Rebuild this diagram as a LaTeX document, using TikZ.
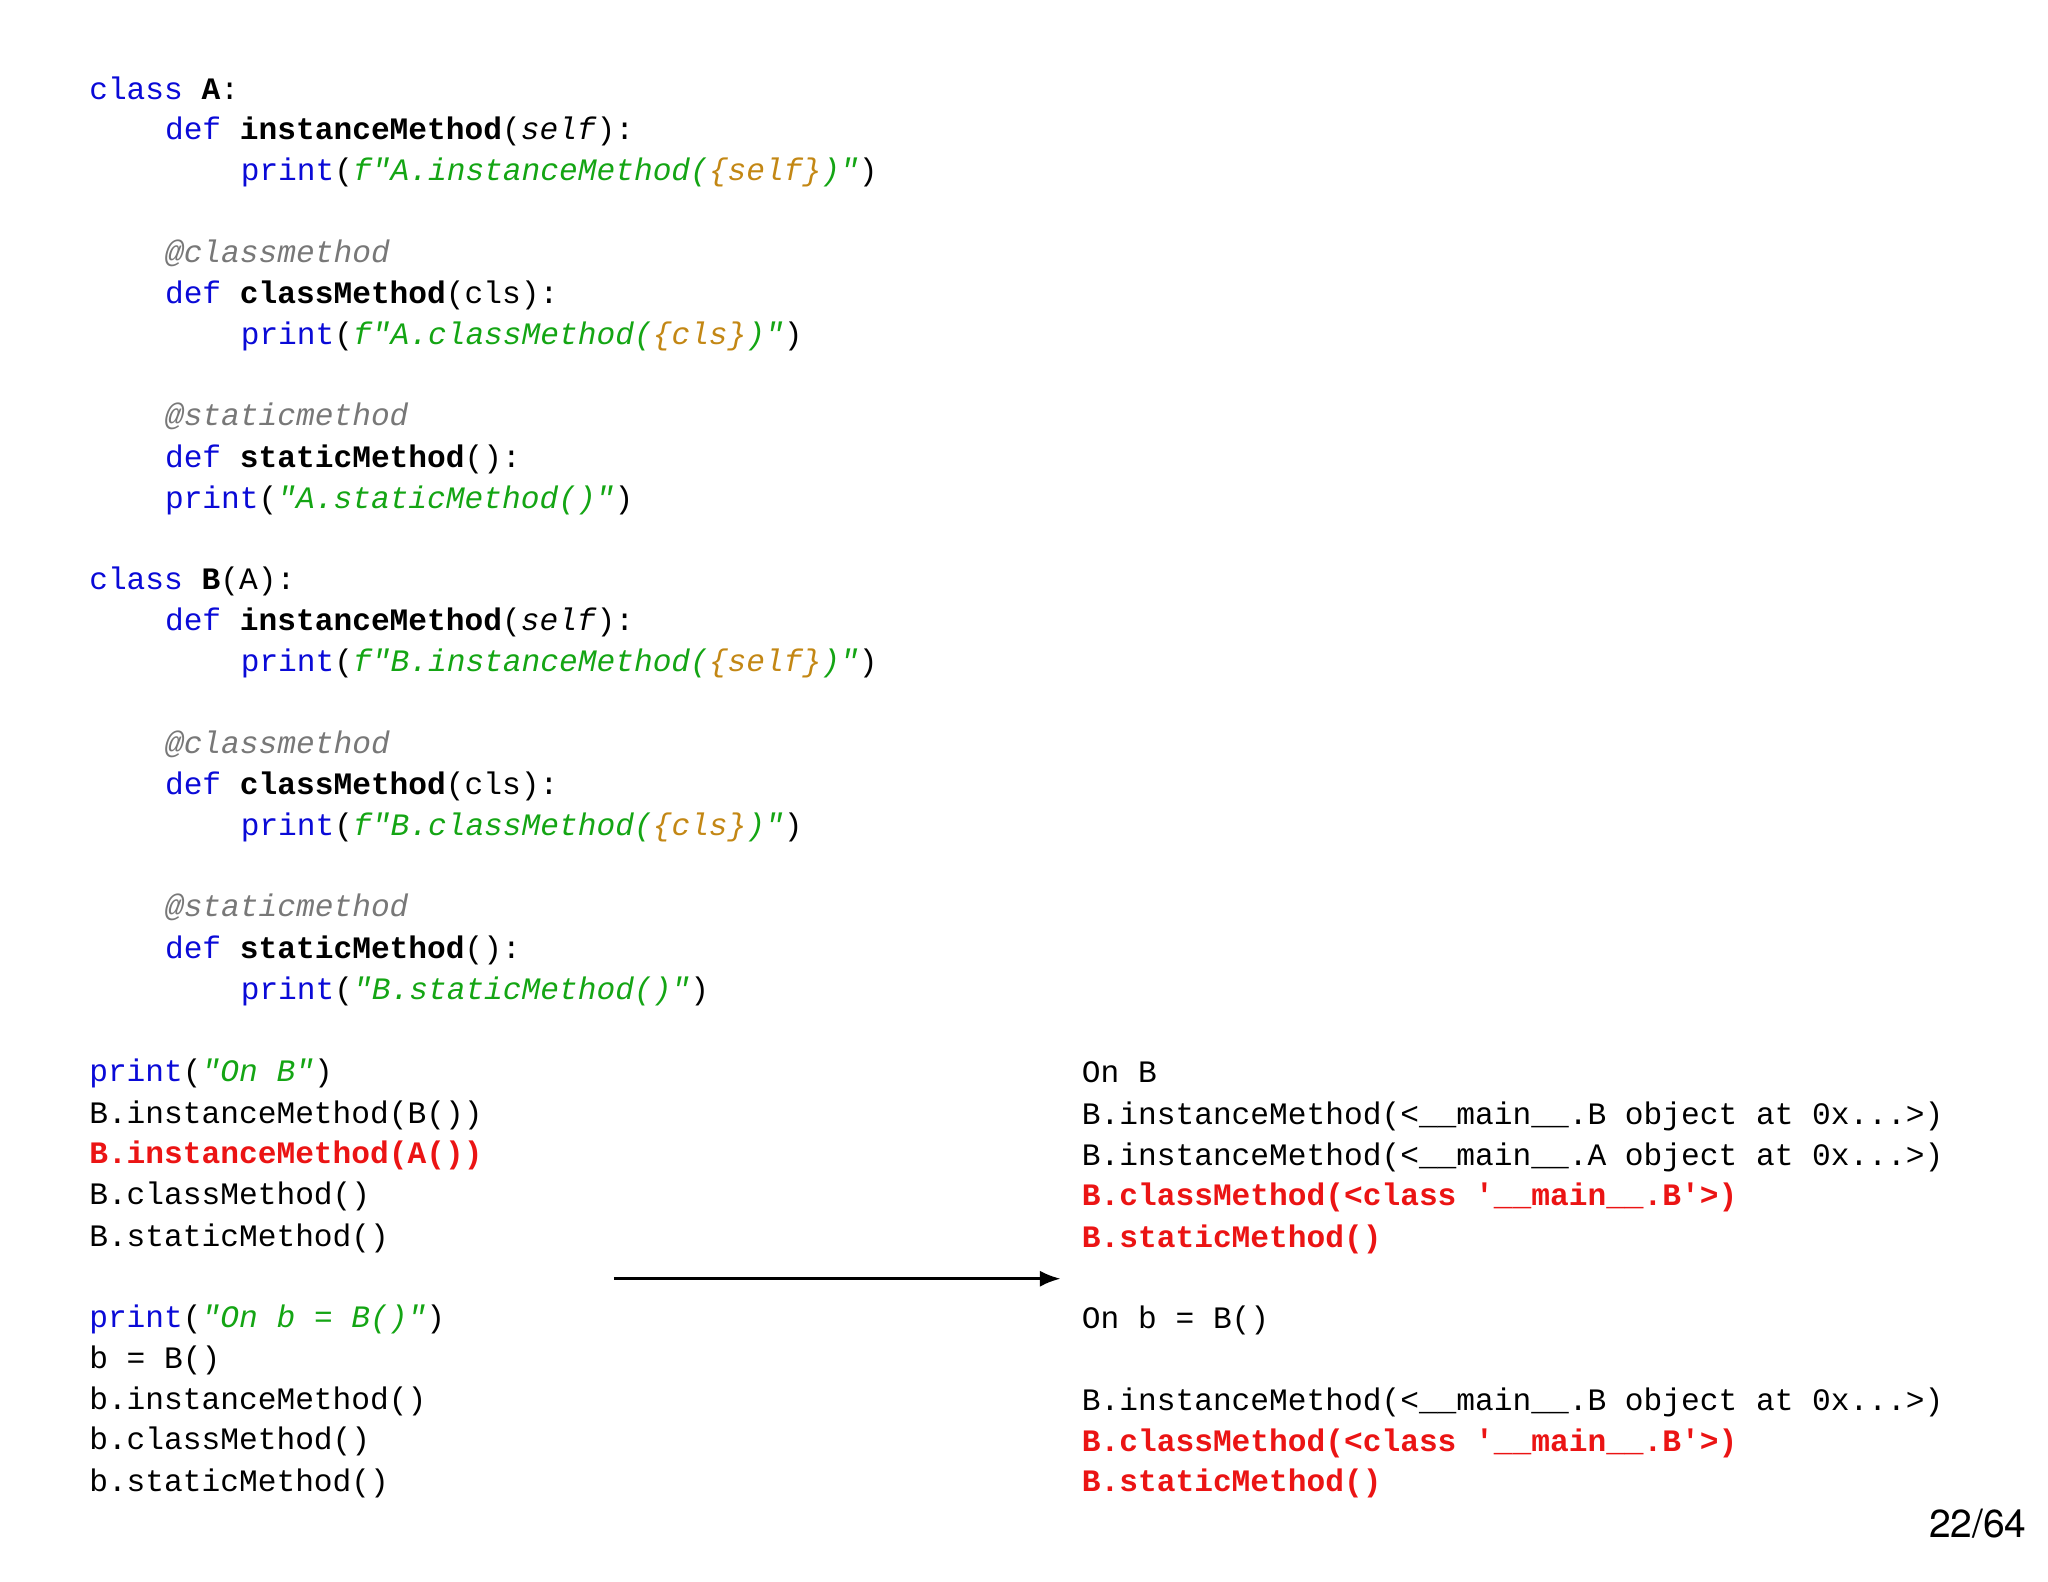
\documentclass[tikz,border=0pt]{standalone}
\usepackage{fontspec}
\usetikzlibrary{arrows.meta}
\setmonofont{Liberation Mono}
\setsansfont{TeX Gyre Heros}
\definecolor{kw}{RGB}{10,10,215}
\definecolor{st}{RGB}{20,165,20}
\definecolor{fi}{RGB}{195,135,20}
\definecolor{dc}{RGB}{120,120,120}
\definecolor{rd}{RGB}{235,20,20}
\newcommand{\K}[1]{\textcolor{kw}{#1}}
\newcommand{\Sg}[1]{\textcolor{st}{\itshape #1}}
\newcommand{\F}[1]{\textcolor{fi}{\itshape #1}}
\newcommand{\D}[1]{\textcolor{dc}{\itshape #1}}
\newcommand{\R}[1]{\textcolor{rd}{\bfseries #1}}
\begin{document}
\begin{tikzpicture}[x=0.02cm,y=-0.02cm,
  ln/.style={anchor=base west,inner sep=0,font=\ttfamily\fontsize{13.6}{16}\selectfont}]
\useasboundingbox (0,0) rectangle (1568,1211);
\node[ln] (l0) at (68,76) {\K{class} \textbf{A}:};
\node[ln] (l1) at (126,107) {\K{def} \textbf{instanceMethod}(\textit{self}):};
\node[ln] (l2) at (184,138) {\K{print}(\Sg{f"A.instanceMethod(}\F{\{self\}}\Sg{)"})};
\node[ln] (l4) at (126,201) {\D{@classmethod}};
\node[ln] (l5) at (126,232) {\K{def} \textbf{classMethod}(cls):};
\node[ln] (l6) at (184,264) {\K{print}(\Sg{f"A.classMethod(}\F{\{cls\}}\Sg{)"})};
\node[ln] (l8) at (126,326) {\D{@staticmethod}};
\node[ln] (l9) at (126,358) {\K{def} \textbf{staticMethod}():};
\node[ln] (l10) at (126,389) {\K{print}(\Sg{"A.staticMethod()"})};
\node[ln] (l12) at (68,451) {\K{class} \textbf{B}(A):};
\node[ln] (l13) at (126,483) {\K{def} \textbf{instanceMethod}(\textit{self}):};
\node[ln] (l14) at (184,514) {\K{print}(\Sg{f"B.instanceMethod(}\F{\{self\}}\Sg{)"})};
\node[ln] (l16) at (126,577) {\D{@classmethod}};
\node[ln] (l17) at (126,608) {\K{def} \textbf{classMethod}(cls):};
\node[ln] (l18) at (184,640) {\K{print}(\Sg{f"B.classMethod(}\F{\{cls\}}\Sg{)"})};
\node[ln] (l20) at (126,702) {\D{@staticmethod}};
\node[ln] (l21) at (126,734) {\K{def} \textbf{staticMethod}():};
\node[ln] (l22) at (184,765) {\K{print}(\Sg{"B.staticMethod()"})};
\node[ln] (l24) at (68,828) {\K{print}(\Sg{"On B"})};
\node[ln] (l25) at (68,860) {B.instanceMethod(B())};
\node[ln] (l26) at (68,891) {\R{B.instanceMethod(A())}};
\node[ln] (l27) at (68,922) {B.classMethod()};
\node[ln] (l28) at (68,954) {B.staticMethod()};
\node[ln] (l30) at (68,1016) {\K{print}(\Sg{"On b = B()"})};
\node[ln] (l31) at (68,1048) {b = B()};
\node[ln] (l32) at (68,1079) {b.instanceMethod()};
\node[ln] (l33) at (68,1110) {b.classMethod()};
\node[ln] (l34) at (68,1142) {b.staticMethod()};
\node[ln] (r24) at (828,829) {On B};
\node[ln] (r25) at (828,861) {B.instanceMethod(<\_\_main\_\_.B object at 0x...>)};
\node[ln] (r26) at (828,892) {B.instanceMethod(<\_\_main\_\_.A object at 0x...>)};
\node[ln] (r27) at (828,923) {\R{B.classMethod(<class '\_\_main\_\_.B'>)}};
\node[ln] (r28) at (828,955) {\R{B.staticMethod()}};
\node[ln] (r30) at (828,1017) {On b = B()};
\node[ln] (r32) at (828,1080) {B.instanceMethod(<\_\_main\_\_.B object at 0x...>)};
\node[ln] (r33) at (828,1111) {\R{B.classMethod(<class '\_\_main\_\_.B'>)}};
\node[ln] (r34) at (828,1142) {\R{B.staticMethod()}};
\coordinate (a1) at (470,979);
\coordinate (a2) at (812,979);
\draw[line width=1.2pt,-{Latex[length=9pt,width=7pt]}] (a1) -- (a2);
\node[anchor=base east,inner sep=0,font=\sffamily\fontsize{17}{20}\selectfont] (pg) at (1552,1177) {22/64};
\end{tikzpicture}
\end{document}
